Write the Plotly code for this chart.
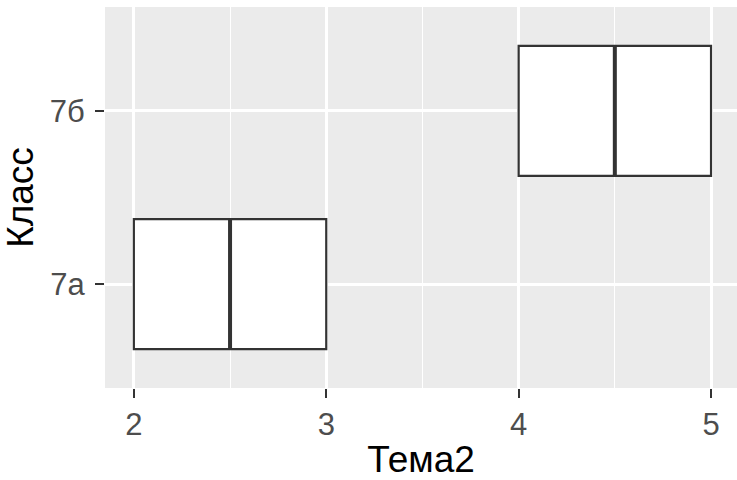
import plotly.graph_objects as go

categories = ["7а", "7б"]
q1 = [2.0, 4.0]
median = [2.5, 4.5]
q3 = [3.0, 5.0]
lower = [2.0, 4.0]
upper = [3.0, 5.0]
x_ticks = [2, 3, 4, 5]

positions = list(range(1, len(categories) + 1))
box_width = 0.75
edge = "#333333"
font = "Liberation Sans, Arial, sans-serif"

fig = go.Figure()
fig.add_trace(go.Box(
    y=positions, q1=q1, median=median, q3=q3,
    lowerfence=lower, upperfence=upper,
    orientation="h", width=box_width, whiskerwidth=0,
    fillcolor="white", line=dict(color=edge, width=2.2),
    boxpoints=False, showlegend=False, hoverinfo="skip",
))
# thicker median line, like ggplot
for p, m in zip(positions, median):
    fig.add_trace(go.Scatter(
        x=[m, m], y=[p - box_width / 2, p + box_width / 2],
        mode="lines", line=dict(color=edge, width=4),
        showlegend=False, hoverinfo="skip",
    ))

fig.update_layout(
    width=737, height=480,
    margin=dict(l=105, r=0, t=7, b=92),
    paper_bgcolor="white", plot_bgcolor="#EBEBEB",
    font=dict(family=font, color="#4D4D4D", size=31),
    showlegend=False,
)
fig.update_xaxes(
    range=[1.85, 5.135], tickvals=x_ticks, ticktext=[str(v) for v in x_ticks],
    showgrid=True, gridcolor="white", gridwidth=2.5,
    minor=dict(dtick=0.5, tick0=2, showgrid=True, gridcolor="white", gridwidth=1.2, ticks=""),
    ticks="outside", ticklen=9, tickwidth=2, tickcolor=edge,
    tickfont=dict(size=31, color="#4D4D4D"),
    zeroline=False, showline=False,
    title=dict(text="Тема2", font=dict(size=37, color="black"), standoff=6),
)
fig.update_yaxes(
    range=[0.4, 2.6], tickvals=positions, ticktext=categories,
    showgrid=True, gridcolor="white", gridwidth=2.5,
    ticks="outside", ticklen=9, tickwidth=2, tickcolor=edge,
    tickfont=dict(size=31, color="#4D4D4D"), ticklabelstandoff=4,
    zeroline=False, showline=False,
    title=dict(text="Класс", font=dict(size=37, color="black"), standoff=6),
)
fig.write_html("out.html")
